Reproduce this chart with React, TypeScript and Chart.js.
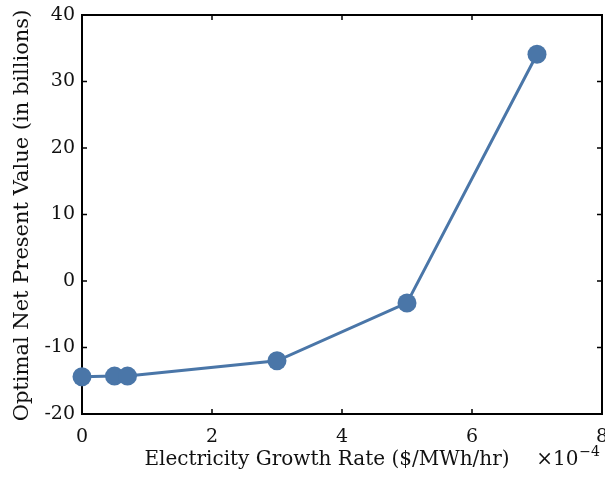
import React, { useEffect, useRef } from 'react';
import { Chart, registerables } from 'chart.js';
Chart.register(...registerables);

const growthRates = [0, 0.5, 0.7, 3, 5, 7];
const npvValues = [-14.4, -14.3, -14.3, -12.0, -3.3, 34.1];
const xTickValues = [0, 2, 4, 6, 8];
const yTickValues = [-20, -10, 0, 10, 20, 30, 40];
const xTitle = 'Electricity Growth Rate ($/MWh/hr)';
const xMultiplier = '×10';
const xExponent = '−4';
const yTitle = 'Optimal Net Present Value (in billions)';

const FONT = '"DejaVu Serif", "Liberation Serif", serif';
const LINE_COLOR = '#4a76a8';

const framePlugin = {
  id: 'frame',
  beforeDatasetsDraw(chart: any) {
    const { ctx, chartArea: a, scales } = chart;
    ctx.save();
    ctx.strokeStyle = '#000';
    ctx.lineWidth = 2;
    ctx.strokeRect(a.left, a.top, a.right - a.left, a.bottom - a.top);
    const len = 5;
    ctx.lineWidth = 1.5;
    ctx.beginPath();
    xTickValues.forEach((v) => {
      const px = scales.x.getPixelForValue(v);
      ctx.moveTo(px, a.bottom);
      ctx.lineTo(px, a.bottom - len);
      ctx.moveTo(px, a.top);
      ctx.lineTo(px, a.top + len);
    });
    yTickValues.forEach((v) => {
      const py = scales.y.getPixelForValue(v);
      ctx.moveTo(a.left, py);
      ctx.lineTo(a.left + len, py);
      ctx.moveTo(a.right, py);
      ctx.lineTo(a.right - len, py);
    });
    ctx.stroke();
    ctx.restore();
  },
  afterDraw(chart: any) {
    const { ctx, chartArea: a } = chart;
    ctx.save();
    ctx.fillStyle = '#111';
    // x title
    ctx.font = `20px ${FONT}`;
    ctx.textBaseline = 'alphabetic';
    ctx.textAlign = 'center';
    const cx = (a.left + a.right) / 2 - 15;
    ctx.fillText(xTitle, cx, a.bottom + 51);
    // multiplier
    ctx.font = `14px ${FONT}`;
    ctx.textAlign = 'right';
    const expW = ctx.measureText(xExponent).width;
    ctx.fillText(xExponent, a.right - 2, a.bottom + 42);
    ctx.font = `20px ${FONT}`;
    ctx.fillText(xMultiplier, a.right - 3 - expW, a.bottom + 51);
    // y title
    ctx.translate(23, (a.top + a.bottom) / 2 + 1);
    ctx.rotate(-Math.PI / 2);
    ctx.textAlign = 'center';
    ctx.textBaseline = 'middle';
    ctx.font = `21px ${FONT}`;
    ctx.fillText(yTitle, 0, 0);
    ctx.restore();
  },
};

export default function App() {
  const ref = useRef<HTMLCanvasElement>(null);
  useEffect(() => {
    document.body.style.margin = '0';
    const chart = new Chart(ref.current!, {
      type: 'scatter',
      data: {
        datasets: [
          {
            data: growthRates.map((x, i) => ({ x, y: npvValues[i] })),
            showLine: true,
            borderColor: LINE_COLOR,
            backgroundColor: LINE_COLOR,
            borderWidth: 3,
            pointRadius: 9.5,
            pointHoverRadius: 9.5,
            pointBorderWidth: 0,
            clip: false as any,
          },
        ],
      },
      options: {
        animation: false,
        responsive: false,
        devicePixelRatio: 1,
        events: [],
        layout: { autoPadding: false, padding: { top: 15, right: 3, left: 0, bottom: 0 } } as any,
        plugins: { legend: { display: false }, tooltip: { enabled: false } },
        scales: {
          x: {
            type: 'linear',
            min: 0,
            max: 8,
            afterBuildTicks: (s: any) => {
              s.ticks = xTickValues.map((v) => ({ value: v }));
            },
            afterFit: (s: any) => {
              s.height = 68;
              s.paddingLeft = 0;
              s.paddingRight = 0;
            },
            grid: { display: false, drawTicks: false },
            border: { display: false },
            ticks: {
              color: '#111',
              font: { family: FONT, size: 19 },
              padding: 12,
              maxRotation: 0,
            },
          },
          y: {
            type: 'linear',
            min: -20,
            max: 40,
            afterBuildTicks: (s: any) => {
              s.ticks = yTickValues.map((v) => ({ value: v }));
            },
            afterFit: (s: any) => {
              s.width = 82;
              s.paddingTop = 0;
              s.paddingBottom = 0;
            },
            grid: { display: false, drawTicks: false },
            border: { display: false },
            ticks: {
              color: '#111',
              font: { family: FONT, size: 19 },
              padding: 7,
            },
          },
        },
      },
      plugins: [framePlugin],
    });
    return () => chart.destroy();
  }, []);
  return <canvas ref={ref} width={605} height={482} style={{ display: 'block' }} />;
}
